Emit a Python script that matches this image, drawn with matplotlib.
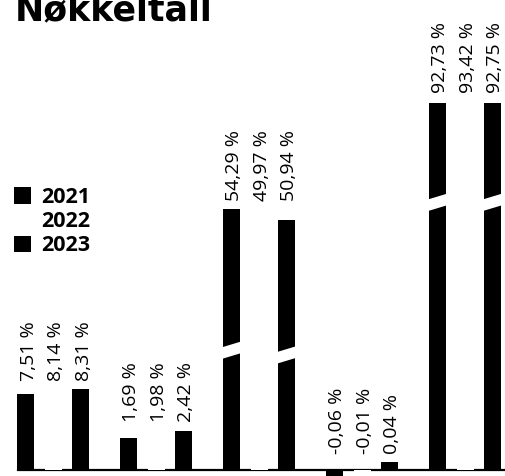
import numpy as np
import matplotlib
matplotlib.use("Agg")
import matplotlib.pyplot as plt

# data
years = ["2021", "2022", "2023"]
v2021 = [7.51, 1.69, 54.29, -0.06, 92.73]
v2022 = [8.14, 1.98, 49.97, -0.01, 93.42]
v2023 = [8.31, 2.42, 50.94, 0.04, 92.75]
bar_colors = ["black", "white", "black"]
title = "Nøkkeltall"

series = [v2021, v2022, v2023]
n_groups = len(v2021)

# value axis: compressed power scale with a minimum visible bar height
# (the original draws tall bars broken and tiny ones exaggerated)
P = 0.65
A = 0.3
PX = 19.0          # pixels per transformed unit
W, H = 506, 476

def fwd(v):
    v = np.asarray(v, dtype=float)
    return np.sign(v) * (np.abs(v) ** P + A * (v != 0))

def inv(t):
    t = np.asarray(t, dtype=float)
    return np.sign(t) * np.clip(np.abs(t) - A, 0, None) ** (1 / P)

fig = plt.figure(figsize=(W / 100, H / 100), dpi=100)
ax = fig.add_axes([0, 0, 1, 1])
ax.set_yscale("function", functions=(fwd, inv))
base_px = 6
ax.set_ylim(inv(-base_px / PX), inv((H - base_px) / PX))
ax.set_xlim(-0.519, 4.398)
ax.axis("off")

offset = 0.267
width = 0.165
x = np.arange(n_groups)

# baseline
ax.plot([-0.345, 4.398], [0, 0], color="black", lw=1.6, zorder=1)

handles = []
for k, (vals, col) in enumerate(zip(series, bar_colors)):
    b = ax.bar(x + (k - 1) * offset, vals, width=width, color=col,
               edgecolor="none", label=years[k], zorder=2)
    handles.append(b)

# break marks on the tall bars
for k, vals in enumerate(series):
    if bar_colors[k] == "white":
        continue
    for g, v in enumerate(vals):
        if v < 40:
            continue
        frac = 0.73 if v > 80 else 0.46
        tb = fwd(v) * frac
        rise = 3.5 / PX
        xc = g + (k - 1) * offset
        xs = [xc - width / 2 - 0.03, xc + width / 2 + 0.03]
        ys = [inv(tb - rise), inv(tb + rise)]
        ax.plot(xs, ys, color="white", lw=8, solid_capstyle="butt", zorder=3)

# value labels, aligned per group; digits centred on their bar
for g in range(n_groups):
    top = max(max(s[g] for s in series), 0)
    for k, vals in enumerate(series):
        txt = f"{vals[g]:.2f} %".replace(".", ",")
        ax.annotate(txt, xy=(g + (k - 1) * offset, top), xytext=(5.5, 6),
                    textcoords="offset points", rotation=90, rotation_mode="anchor",
                    ha="left", va="baseline", fontsize=14,
                    family=["Open Sans", "DejaVu Sans"], color="black")

# legend
leg = ax.legend(handles=handles, labels=years, loc="upper left",
                bbox_to_anchor=(14 / W, 1 - 187 / H), bbox_transform=fig.transFigure,
                frameon=False, borderpad=0, borderaxespad=0,
                handlelength=0.78, handleheight=0.78, handletextpad=0.5,
                labelspacing=0.15,
                prop={"family": ["Open Sans", "DejaVu Sans"], "weight": "bold", "size": 15.5})

# title (cut at the top edge like in the original)
fig.text(15 / W, 1 - 20 / H, title, ha="left", va="baseline",
         fontsize=25, fontweight="bold", family="DejaVu Sans", color="black")

fig.savefig("out.png", dpi=100)
